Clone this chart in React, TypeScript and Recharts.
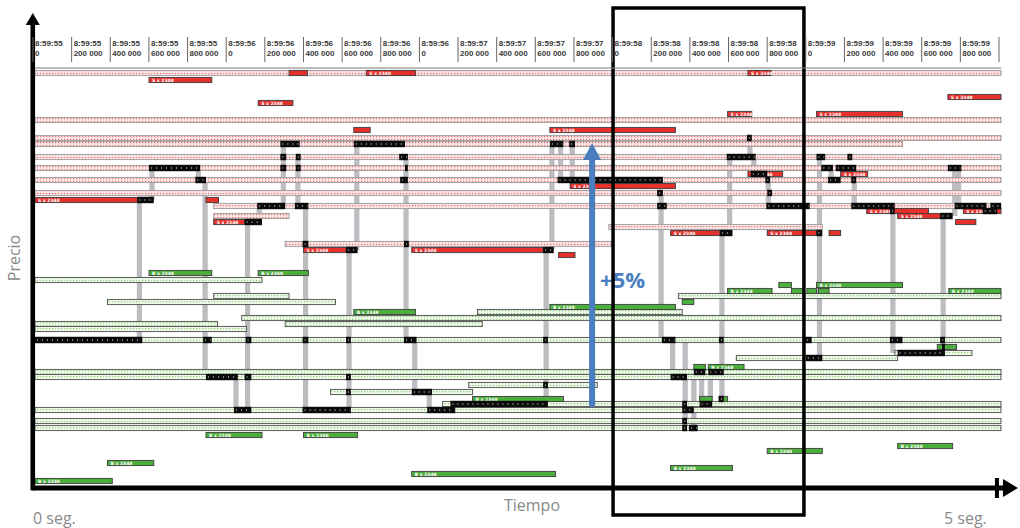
import React from 'react';
import { ComposedChart, XAxis, YAxis, Line, ReferenceArea } from 'recharts';

// time in ms since 8:59:55.000, price in arbitrary price units (0 = bottom, 100 ≈ +5%)
type Seg = [number, number, number];
type Link = [number, number, number];

const tickTimes = [0, 200, 400, 600, 800, 1000, 1200, 1400, 1600, 1800, 2000, 2200, 2400, 2600, 2800, 3000, 3200, 3400, 3600, 3800, 4000, 4200, 4400, 4600, 4800, 5000];
const tickTop = ['8:59:55', '8:59:55', '8:59:55', '8:59:55', '8:59:55', '8:59:56', '8:59:56', '8:59:56', '8:59:56', '8:59:56', '8:59:56', '8:59:57', '8:59:57', '8:59:57', '8:59:57', '8:59:58', '8:59:58', '8:59:58', '8:59:58', '8:59:58', '8:59:59', '8:59:59', '8:59:59', '8:59:59', '8:59:59', ''];
const tickBottom = ['0', '200 000', '400 000', '600 000', '800 000', '0', '200 000', '400 000', '600 000', '800 000', '0', '200 000', '400 000', '600 000', '800 000', '0', '200 000', '400 000', '600 000', '800 000', '0', '200 000', '400 000', '600 000', '800 000', ''];

// resting sell orders (hatched red)
const sellBook: Seg[] = [
  [0, 5000, 103.75], [0, 5000, 92], [0, 5000, 87.5], [0, 4490, 86], [0, 5000, 82.75],
  [0, 5000, 80], [0, 5000, 77], [0, 5000, 73.75], [925, 5000, 70.5], [925, 1315, 68],
  [2970, 4075, 65.25], [1295, 2985, 61],
];
// resting buy orders (hatched green)
const buyBook: Seg[] = [
  [0, 1175, 52], [925, 1315, 48], [3330, 5000, 48], [375, 1555, 46.5], [2290, 3350, 44],
  [1070, 5000, 42.5], [0, 945, 41], [1295, 2315, 41], [0, 1095, 39.75], [0, 5000, 37],
  [4450, 4850, 33.75], [3630, 4465, 32.5], [0, 5000, 29], [0, 5000, 27.75], [2245, 2910, 25.75],
  [1530, 2265, 24], [2110, 5000, 21], [0, 5000, 19.5], [0, 5000, 16.75], [0, 5000, 15],
];
// new sell orders (solid red)
const newSell: Seg[] = [
  [1315, 1410, 103.75], [1715, 1970, 103.75], [3690, 3810, 103.75], [590, 915, 102], [4725, 5000, 97.75],
  [1155, 1335, 96.25], [3585, 3710, 93.5], [4045, 4490, 93.5], [1650, 1735, 89.5], [2665, 3315, 89.5],
  [3690, 3870, 78.5], [4170, 4310, 78.5], [2770, 3315, 75.5], [0, 530, 72], [885, 950, 72],
  [4305, 4625, 69.25], [4805, 5000, 69.25], [4465, 4685, 68], [925, 1085, 66.5], [4765, 4870, 66.5],
  [3290, 3545, 63.75], [3790, 4045, 63.75], [4110, 4170, 63.75], [1390, 1610, 59.5], [1950, 2630, 59.5],
  [2710, 2795, 58.25],
];
// new buy orders (solid green)
const newBuy: Seg[] = [
  [590, 915, 53.75], [1155, 1415, 53.75], [3850, 3915, 50.75], [4045, 4490, 50.75], [3585, 3815, 49.25],
  [3915, 3980, 49.25], [3995, 4045, 49.25], [4055, 4110, 49.25], [4730, 5000, 49.25], [3350, 3410, 46.5],
  [2665, 3315, 45.25], [1650, 1970, 44], [4670, 4770, 35.25], [3410, 3470, 30.25], [3485, 3670, 30.25],
  [2265, 2735, 22.25], [3440, 3505, 22.25], [3540, 3585, 22.25], [885, 1175, 13.25], [1390, 1670, 13.25],
  [4465, 4750, 10.5], [3790, 4075, 9.25], [375, 615, 6.25], [3290, 3610, 5], [1950, 2695, 3.5],
  [0, 400, 1.75],
];
// executions (black)
const trades: Seg[] = [
  [1270, 1370, 86], [1650, 1915, 86], [2665, 2735, 86], [2765, 2795, 86], [3685, 3710, 87.5],
  [1270, 1300, 82.75], [1350, 1375, 82.75], [1885, 1930, 82.75], [3580, 3730, 82.75], [4045, 4090, 82.75], [4205, 4230, 82.75],
  [590, 855, 80], [1270, 1300, 80], [1350, 1375, 80], [1915, 1930, 80], [4070, 4130, 80], [4145, 4250, 80], [4725, 4795, 80],
  [3705, 3790, 78.5],
  [830, 885, 77], [1890, 1930, 77], [2705, 3250, 77], [3780, 3805, 77], [4105, 4170, 77], [4225, 4250, 77],
  [3220, 3250, 73.75], [3790, 3815, 73.75], [530, 615, 72],
  [1150, 1295, 70.5], [1345, 1415, 70.5], [3220, 3270, 70.5], [3785, 4010, 70.5], [4225, 4450, 70.5], [4760, 4925, 70.5], [4945, 5000, 70.5],
  [4425, 4450, 69.25], [4905, 4980, 69.25], [4685, 4750, 68], [1085, 1175, 66.5],
  [3545, 3610, 63.75], [4045, 4075, 63.75], [1385, 1415, 61], [1910, 1935, 61], [1610, 1670, 59.5], [2630, 2685, 59.5],
  [0, 555, 37], [870, 915, 37], [1090, 1120, 37], [1385, 1415, 37], [1610, 1635, 37], [1910, 1975, 37], [2630, 2655, 37],
  [3245, 3315, 37], [3540, 3565, 37], [3985, 4020, 37], [4425, 4490, 37], [4685, 4710, 37],
  [4695, 4710, 35.25], [4465, 4710, 33.75], [3990, 4075, 32.5], [3410, 3470, 29], [3485, 3565, 29],
  [885, 1050, 27.75], [1085, 1120, 27.75], [1610, 1635, 27.75], [3290, 3375, 27.75], [2630, 2655, 25.75],
  [1610, 1635, 24], [1950, 2055, 24], [3540, 3565, 22.25], [2150, 2655, 21], [3350, 3375, 21], [3440, 3505, 21],
  [1030, 1120, 19.5], [1385, 1635, 19.5], [2030, 2175, 19.5], [3350, 3410, 19.5], [3350, 3375, 16.75],
  [3350, 3375, 15], [3385, 3430, 15],
];
// grey vertical links: [time, price from, price to]
const links: Link[] = [
  [540, 72, 37], [605, 80, 72], [845, 80, 77], [880, 77, 27.75], [1100, 66.5, 19.5], [1040, 27.75, 19.5],
  [1160, 70.5, 66.5], [1285, 86, 70.5], [1360, 82.75, 70.5], [1400, 70.5, 19.5], [1665, 86, 59.5], [1625, 59.5, 19.5],
  [1920, 82.75, 37], [1965, 37, 24], [2040, 24, 19.5], [2645, 59.5, 21], [2675, 86, 59.5], [2720, 86, 77],
  [2780, 86, 77], [3240, 73.75, 37], [3300, 37, 27.75], [3365, 37, 15], [3410, 29, 15], [3450, 30.25, 21],
  [3495, 30.25, 21], [3595, 82.75, 63.75], [3555, 63.75, 22.25], [3720, 82.75, 78.5], [3700, 87.5, 83.5],
  [3795, 77, 70.5], [4060, 82.75, 32.5], [4120, 80, 77], [4240, 80, 70.5], [4440, 70.5, 33.75],
  [4760, 80, 68], [4700, 68, 35.25], [4780, 80, 70.5],
];

const domainData = [{ t: 0, p: 0 }, { t: 5000, p: 105 }];
const BAR = 0.65;
const TRADE = 0.8;
const BLUE = '#4a7ebf';

const TopTick = (props: any) => {
  const { x, payload } = props;
  const i = tickTimes.indexOf(payload.value);
  return (
    <g>
      <line x1={x - 2} x2={x - 2} y1={37} y2={62} stroke="#666" strokeWidth={1} />
      <text x={x} y={46} fontSize={8} fontWeight={600} fill="#3a3a3a" fontFamily="Liberation Sans">{tickTop[i]}</text>
      <text x={x} y={56} fontSize={8} fontWeight={600} fill="#3a3a3a" fontFamily="Liberation Sans">{tickBottom[i]}</text>
    </g>
  );
};

const bookShape = (side: 's' | 'b') => (p: any) => (
  <rect x={p.x} y={p.y} width={p.width} height={p.height}
    fill={side === 's' ? 'url(#hatchS) #fbe3e3' : 'url(#hatchB) #eef8e9'}
    stroke={side === 's' ? '#9a9a9a' : '#4d4d4d'} strokeWidth={0.9} />
);

const orderShape = (side: 's' | 'b') => (p: any) => (
  <g>
    <rect x={p.x} y={p.y} width={p.width} height={p.height}
      fill={side === 's' ? '#e5302c' : '#4cae3c'} stroke="#3d3d3d" strokeWidth={0.9} />
    {p.width > 22 ? (
      <text x={p.x + 3} y={p.y + p.height / 2 + 1.6} fontSize={4.5} fontWeight={700} fill="#fff" fontFamily="DejaVu Sans">
        {side === 's' ? 'S x 2348' : 'B x 2348'}
      </text>
    ) : null}
  </g>
);

const tradeShape = (p: any) => (
  <g>
    <rect x={p.x} y={p.y} width={p.width} height={p.height} fill="#0b0b0b" />
    <line x1={p.x + 2} x2={p.x + p.width - 1} y1={p.y + p.height / 2} y2={p.y + p.height / 2}
      stroke="#fff" strokeWidth={1} strokeDasharray="1 4" />
  </g>
);

const linkShape = (p: any) => (
  <rect x={p.x + p.width / 2 - 2.6} y={p.y} width={5.2} height={p.height} fill="#bcbcc1" />
);

const leftAxisShape = (p: any) => {
  const cx = p.x + p.width / 2;
  return (
    <g>
      <rect x={cx - 2.3} y={p.y + 9} width={4.6} height={p.height - 9} fill="#000" />
      <path d={`M${cx - 7},${p.y + 12} L${cx},${p.y} L${cx + 7},${p.y + 12} Z`} fill="#000" />
    </g>
  );
};

const bottomAxisShape = (p: any) => {
  const cy = p.y + p.height / 2;
  const r = p.x + p.width;
  return (
    <g>
      <rect x={p.x} y={cy - 2.5} width={p.width} height={5} fill="#000" />
      <rect x={r - 8} y={cy - 10} width={4} height={20} fill="#000" />
      <path d={`M${r},${cy - 9} L${r + 15},${cy} L${r},${cy + 9} Z`} fill="#000" />
    </g>
  );
};

const blueArrowShape = (p: any) => {
  const cx = p.x + p.width / 2;
  return (
    <g>
      <rect x={cx - 3} y={p.y + 14} width={6} height={p.height - 14} fill={BLUE} />
      <path d={`M${cx - 9},${p.y + 17} L${cx},${p.y} L${cx + 9},${p.y + 17} Z`} fill={BLUE} />
      <text x={cx + 8} y={p.y + p.height * 0.548} fontSize={22} fontWeight={700} fill={BLUE} fontFamily="Open Sans">+5%</text>
    </g>
  );
};

const labelStyle: React.CSSProperties = {
  position: 'absolute', fontFamily: 'Open Sans', fontSize: 16, color: '#8a8a8a', lineHeight: '16px', whiteSpace: 'nowrap',
};

export default function App() {
  return (
    <div style={{ position: 'absolute', left: 0, top: 0, width: 1020, height: 528, background: '#fff' }}>
      <svg width={0} height={0} style={{ position: 'absolute' }}>
        <defs>
          <pattern id="hatchS" width="3" height="3" patternUnits="userSpaceOnUse">
            <rect width="3" height="3" fill="#fbe3e3" />
            <rect x="1" y="1" width="1.2" height="1.2" fill="#e07272" />
          </pattern>
          <pattern id="hatchB" width="3" height="3" patternUnits="userSpaceOnUse">
            <rect width="3" height="3" fill="#eef8e9" />
            <rect x="1" y="1" width="1.2" height="1.2" fill="#8fcd7c" />
          </pattern>
        </defs>
      </svg>
      <ComposedChart width={1020} height={528} data={domainData} margin={{ top: 8, right: 19, bottom: 40, left: 35 }}>
        <XAxis dataKey="t" type="number" orientation="top" domain={[0, 5000]} ticks={tickTimes} interval={0}
          height={60} tickLine={false} axisLine={{ stroke: '#7a7a7a', strokeWidth: 1.2 }} tick={<TopTick />} allowDataOverflow />
        <YAxis dataKey="p" type="number" domain={[0, 105]} hide allowDataOverflow />
        <Line dataKey="p" stroke="none" dot={false} activeDot={false} isAnimationActive={false} />
        {links.map(([t, a, b], i) => (
          <ReferenceArea key={`l${i}`} x1={t} x2={t + 1} y1={Math.min(a, b)} y2={Math.max(a, b)} shape={linkShape} />
        ))}
        {sellBook.map(([s, e, p], i) => (
          <ReferenceArea key={`sb${i}`} x1={s} x2={e} y1={p - BAR} y2={p + BAR} shape={bookShape('s')} />
        ))}
        {buyBook.map(([s, e, p], i) => (
          <ReferenceArea key={`bb${i}`} x1={s} x2={e} y1={p - BAR} y2={p + BAR} shape={bookShape('b')} />
        ))}
        {newSell.map(([s, e, p], i) => (
          <ReferenceArea key={`ns${i}`} x1={s} x2={e} y1={p - BAR} y2={p + BAR} shape={orderShape('s')} />
        ))}
        {newBuy.map(([s, e, p], i) => (
          <ReferenceArea key={`nb${i}`} x1={s} x2={e} y1={p - BAR} y2={p + BAR} shape={orderShape('b')} />
        ))}
        {trades.map(([s, e, p], i) => (
          <ReferenceArea key={`tr${i}`} x1={s} x2={e} y1={p - TRADE} y2={p + TRADE} shape={tradeShape} />
        ))}
        <ReferenceArea x1={2883} x2={2884} y1={20.25} y2={86.25} ifOverflow="visible" shape={blueArrowShape} />
        <ReferenceArea x1={2992} x2={3980} y1={-6.75} y2={120} ifOverflow="visible" fill="none" fillOpacity={0} stroke="#000" strokeWidth={3.5} />
        <ReferenceArea x1={-12} x2={-11} y1={-0.6} y2={118.75} ifOverflow="visible" shape={leftAxisShape} />
        <ReferenceArea x1={-12} x2={5010} y1={-0.3} y2={0.3} ifOverflow="visible" shape={bottomAxisShape} />
      </ComposedChart>
      <div style={{ ...labelStyle, left: 14, top: 258, transform: 'translate(-50%, -50%) rotate(-90deg)' }}>Precio</div>
      <div style={{ ...labelStyle, left: 532, top: 505, transform: 'translate(-50%, -50%)' }}>Tiempo</div>
      <div style={{ ...labelStyle, left: 33, top: 510 }}>0 seg.</div>
      <div style={{ ...labelStyle, left: 944, top: 510 }}>5 seg.</div>
    </div>
  );
}
